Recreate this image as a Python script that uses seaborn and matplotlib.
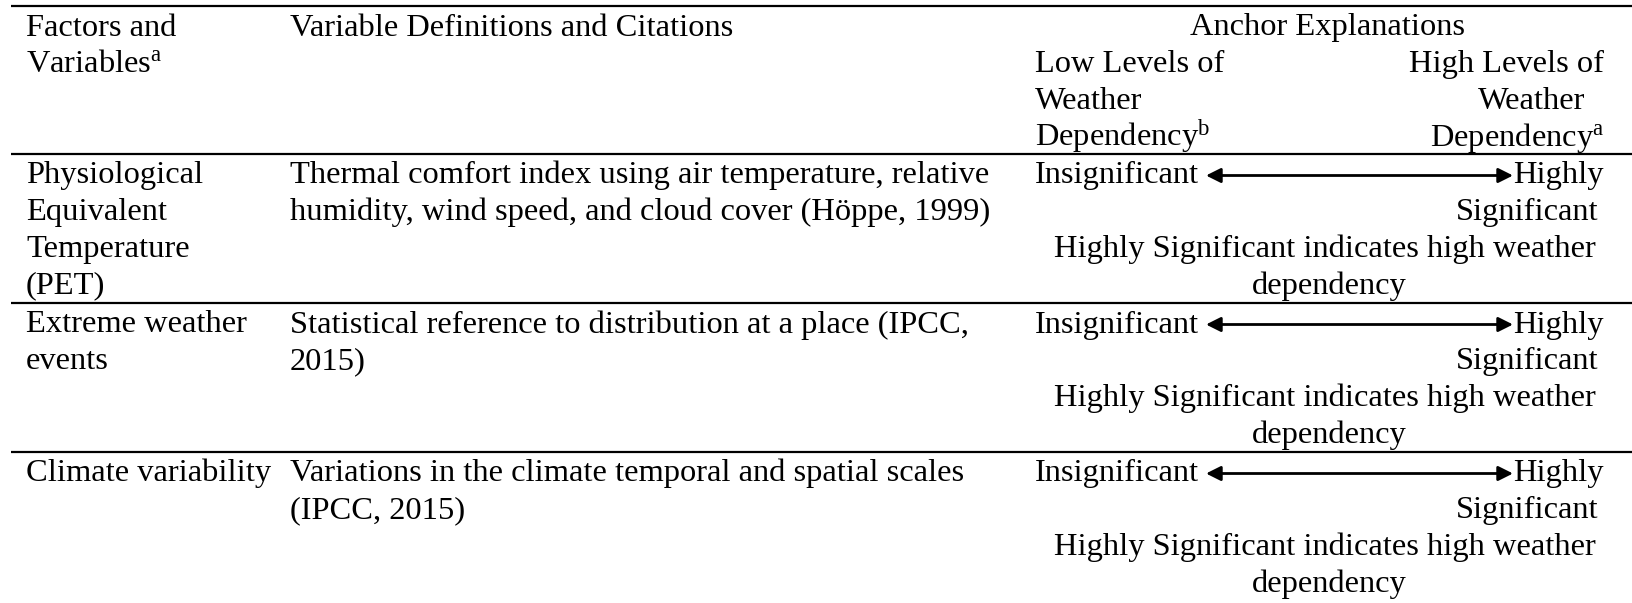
import matplotlib
matplotlib.use("Agg")
import matplotlib.pyplot as plt
import seaborn as sns

# ---------------- data (table content) ----------------
header_col1 = ["Factors and", r"Variables$^{\mathrm{a}}$"]
header_col2 = ["Variable Definitions and Citations"]
header_col3_title = "Anchor Explanations"
header_low = ["Low Levels of", "Weather", r"Dependency$^{\mathrm{b}}$"]
header_high = ["High Levels of", "Weather", r"Dependency$^{\mathrm{a}}$"]

factors = [
    ["Physiological", "Equivalent", "Temperature", "(PET)"],
    ["Extreme weather", "events"],
    ["Climate variability"],
]
definitions = [
    ["Thermal comfort index using air temperature, relative",
     "humidity, wind speed, and cloud cover (Höppe, 1999)"],
    ["Statistical reference to distribution at a place (IPCC,",
     "2015)"],
    ["Variations in the climate temporal and spatial scales",
     "(IPCC, 2015)"],
]
anchor_low = ["Insignificant", "Insignificant", "Insignificant"]
anchor_high = [["Highly", "Significant"]] * 3
anchor_note = [["Highly Significant indicates high weather", "dependency"]] * 3

# ---------------- style ----------------
sns.set_theme(style="white")
plt.rcParams["font.family"] = ["Liberation Serif", "DejaVu Serif"]
plt.rcParams["mathtext.fontset"] = "custom"
plt.rcParams["mathtext.rm"] = "Liberation Serif"
plt.rcParams["mathtext.it"] = "Liberation Serif:italic"
plt.rcParams["mathtext.bf"] = "Liberation Serif:bold"

W, H = 1632, 603
fig = plt.figure(figsize=(W / 100, H / 100), dpi=100)
ax = fig.add_axes([0, 0, 1, 1])
ax.set_xlim(0, W)
ax.set_ylim(H, 0)
ax.axis("off")

FS = 23.4
LS = 36.7          # line spacing (px)
BASE = 29.5        # first baseline below rule
rules_y = [6, 154, 303, 452]
x1, x2, x3 = 26, 290, 1035
x3_right = 1604
x3_center = 1328

def txt(x, y, s, ha="left"):
    ax.text(x, y, s, fontsize=FS, ha=ha, va="baseline", color="black")

for ry in rules_y:
    ax.plot([11, W], [ry, ry], color="black", lw=1.6, solid_capstyle="butt")

# header
y0 = rules_y[0] + BASE
for i, s in enumerate(header_col1):
    txt(x1, y0 + i * LS, s)
for i, s in enumerate(header_col2):
    txt(x2, y0 + i * LS, s)
txt(x3_center, y0, header_col3_title, ha="center")
high_right = [x3_right, 1585, x3_right]
for i, s in enumerate(header_low):
    txt(x3, y0 + (i + 1) * LS, s)
for i, s in enumerate(header_high):
    txt(high_right[i], y0 + (i + 1) * LS, s, ha="right")

# body rows
for r in range(3):
    yb = rules_y[r + 1] + BASE
    for i, s in enumerate(factors[r]):
        txt(x1, yb + i * LS, s)
    for i, s in enumerate(definitions[r]):
        txt(x2, yb + i * LS, s)
    txt(x3, yb, anchor_low[r])
    txt(x3_right, yb, anchor_high[r][0], ha="right")
    txt(1599, yb + LS, anchor_high[r][1], ha="right")
    txt(1325, yb + 2 * LS, anchor_note[r][0], ha="center")
    txt(1329, yb + 3 * LS, anchor_note[r][1], ha="center")
    ay = yb - 8
    ax.annotate("", xy=(1513, ay), xytext=(1206, ay),
                arrowprops=dict(arrowstyle="<|-|>", color="black", lw=2.0,
                                mutation_scale=22, shrinkA=0, shrinkB=0))

fig.savefig("out.png", dpi=100)
